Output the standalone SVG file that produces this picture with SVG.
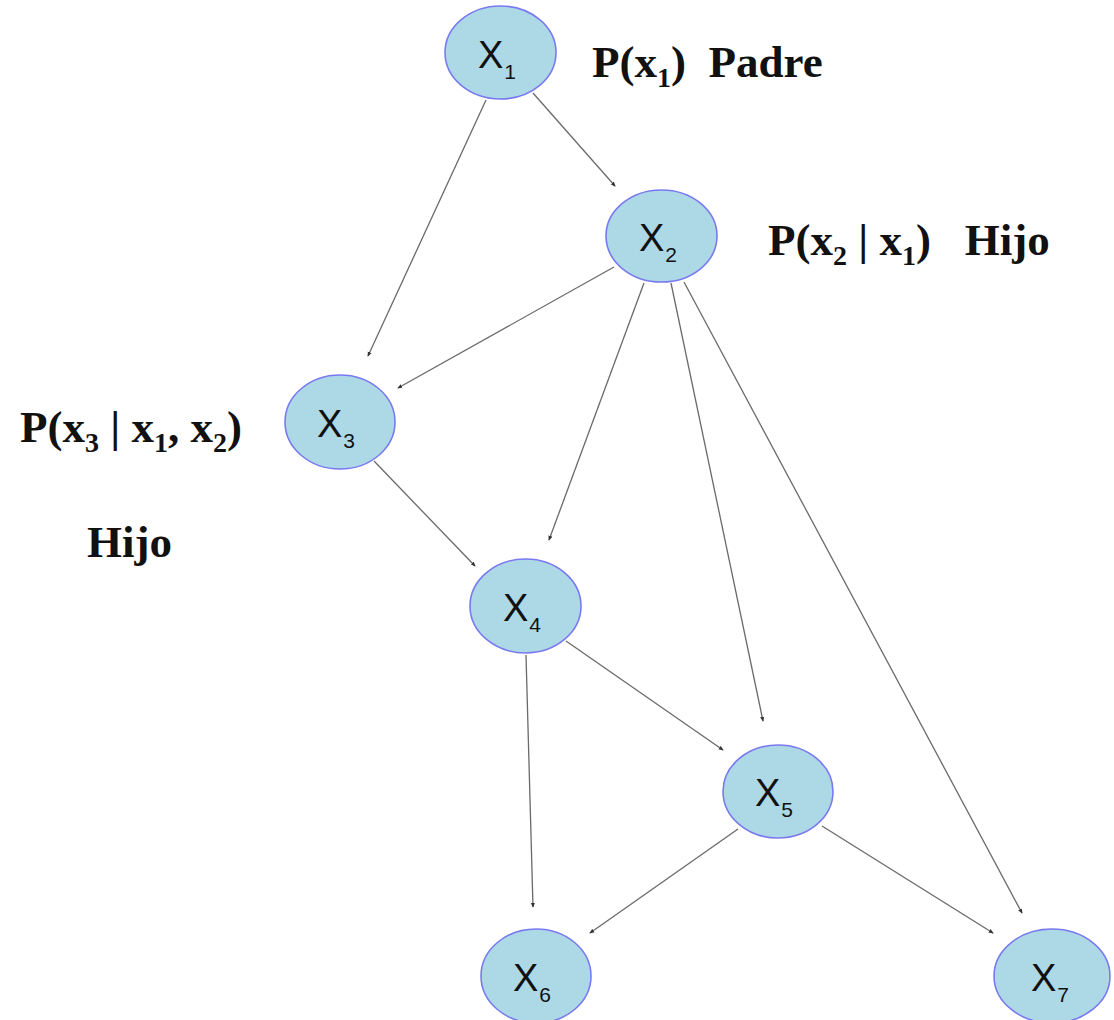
<svg xmlns="http://www.w3.org/2000/svg" width="1114" height="1020" viewBox="0 0 1114 1020">
<style>
.node ellipse{fill:#add8e6;stroke:#7a7af0;stroke-width:1.6}
.nl{font-family:"Liberation Sans",Arial,sans-serif;font-size:38px;fill:#111}
.nl tspan.s{font-size:21px}
.lab{font-family:"Liberation Serif","Times New Roman",serif;font-weight:bold;font-size:45px;fill:#111;white-space:pre}
.lab tspan.s{font-size:28px}
.edges line{stroke:#6a6a6a;stroke-width:1.3;fill:none;marker-end:url(#ah)}
</style>
<defs>
<marker id="ah" viewBox="0 0 6 6" refX="5" refY="3" markerWidth="5" markerHeight="5" markerUnits="userSpaceOnUse" orient="auto">
<path d="M0,0.5 L6,3 L0,5.5 z" fill="#333"/>
</marker>
</defs>
<rect width="1114" height="1020" fill="#fff"/>
<g id="edges" class="edges">
<line x1="486" y1="100" x2="368" y2="356"/>
<line x1="533" y1="93" x2="615" y2="186"/>
<line x1="614" y1="267" x2="398" y2="388"/>
<line x1="644" y1="283" x2="549" y2="540"/>
<line x1="671" y1="283" x2="763" y2="721"/>
<line x1="684" y1="282" x2="1022" y2="913"/>
<line x1="374" y1="461" x2="475" y2="566"/>
<line x1="566" y1="641" x2="723" y2="750"/>
<line x1="526" y1="655" x2="533" y2="907"/>
<line x1="738" y1="829" x2="590" y2="933"/>
<line x1="822" y1="826" x2="993" y2="933"/>
</g>
<g id="X1" class="node"><ellipse cx="500.5" cy="52.5" rx="55.5" ry="46.5"/><text class="nl" x="478" y="68">X<tspan class="s" dx="1" dy="11">1</tspan></text></g>
<g id="X2" class="node"><ellipse cx="661.5" cy="236" rx="55.5" ry="46"/><text class="nl" x="639" y="251">X<tspan class="s" dx="1" dy="11">2</tspan></text></g>
<g id="X3" class="node"><ellipse cx="340" cy="422" rx="55" ry="47"/><text class="nl" x="317" y="437">X<tspan class="s" dx="1" dy="11">3</tspan></text></g>
<g id="X4" class="node"><ellipse cx="525.5" cy="606" rx="55.5" ry="47"/><text class="nl" x="503" y="621">X<tspan class="s" dx="1" dy="11">4</tspan></text></g>
<g id="X5" class="node"><ellipse cx="778" cy="791.5" rx="55" ry="46.5"/><text class="nl" x="755" y="806">X<tspan class="s" dx="1" dy="11">5</tspan></text></g>
<g id="X6" class="node"><ellipse cx="536" cy="976" rx="55" ry="47"/><text class="nl" x="513" y="991">X<tspan class="s" dx="1" dy="11">6</tspan></text></g>
<g id="X7" class="node"><ellipse cx="1052" cy="976" rx="58" ry="47"/><text class="nl" x="1031" y="991">X<tspan class="s" dx="1" dy="11">7</tspan></text></g>
<g id="labels">
<text class="lab" x="592" y="77" xml:space="preserve">P(x<tspan class="s" dy="10">1</tspan><tspan dy="-10">)  Padre</tspan></text>
<text class="lab" x="768" y="255" xml:space="preserve">P(x<tspan class="s" dy="10">2</tspan><tspan dy="-10"> | x</tspan><tspan class="s" dy="10">1</tspan><tspan dy="-10">)   Hijo</tspan></text>
<text class="lab" x="20" y="442" xml:space="preserve">P(x<tspan class="s" dy="10">3</tspan><tspan dy="-10"> | x</tspan><tspan class="s" dy="10">1</tspan><tspan dy="-10">, x</tspan><tspan class="s" dy="10">2</tspan><tspan dy="-10">)</tspan></text>
<text class="lab" x="87" y="557">Hijo</text>
</g>
</svg>
